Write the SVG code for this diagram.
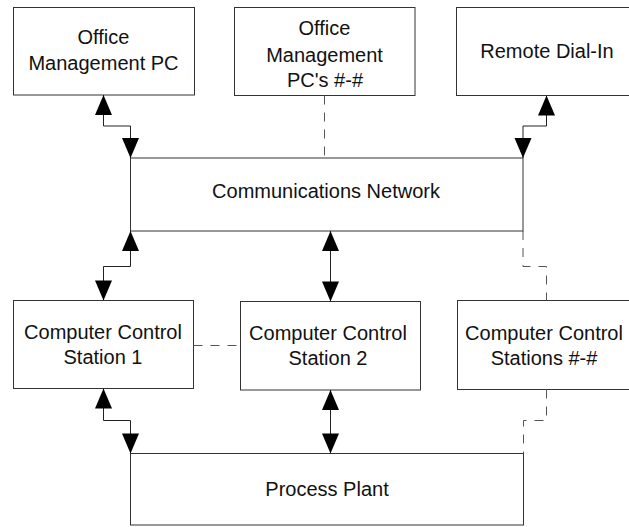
<svg xmlns="http://www.w3.org/2000/svg" width="629" height="527" viewBox="0 0 629 527">
<style>
.box{fill:#fff;stroke:#333;stroke-width:1}
.t{font-family:"Liberation Sans",Arial,sans-serif;font-size:20px;fill:#111;text-anchor:middle}
.c{fill:none;stroke:#222;stroke-width:1}
.d{fill:none;stroke:#555;stroke-width:1;stroke-dasharray:9,8}
</style>
<defs>
<marker id="ah" markerUnits="userSpaceOnUse" markerWidth="24" markerHeight="22" refX="20" refY="9" orient="auto-start-reverse" overflow="visible">
<path d="M0,0.5 L20,9 L0,17.5 z" fill="#000"/>
</marker>
</defs>
<rect width="629" height="527" fill="#fff"/>
<g id="office-pc"><rect class="box" x="13.5" y="7.5" width="181" height="87.5"/><text class="t" x="103.5" y="44">Office</text><text class="t" x="103.5" y="70">Management PC</text></g>
<g id="office-pcs"><rect class="box" x="234.5" y="7.5" width="180.5" height="88"/><text class="t" x="324.5" y="34.5">Office</text><text class="t" x="324.5" y="61.5">Management</text><text class="t" x="325" y="87">PC's #-#</text></g>
<g id="remote"><rect class="box" x="456.5" y="7.5" width="185" height="88"/><text class="t" x="547" y="57.5">Remote Dial-In</text></g>
<g id="comm"><rect class="box" x="130.5" y="158" width="392.5" height="73"/><text class="t" x="326" y="198">Communications Network</text></g>
<g id="station1"><rect class="box" x="13.5" y="300.5" width="180" height="88"/><text class="t" x="103" y="338.5">Computer Control</text><text class="t" x="103" y="364">Station 1</text></g>
<g id="station2"><rect class="box" x="240.5" y="301.5" width="180" height="88.5"/><text class="t" x="328" y="339.5">Computer Control</text><text class="t" x="328" y="365">Station 2</text></g>
<g id="station3"><rect class="box" x="457.5" y="300.5" width="185" height="89"/><text class="t" x="544" y="340">Computer Control</text><text class="t" x="544" y="365">Stations #-#</text></g>
<g id="plant"><rect class="box" x="130.5" y="453.5" width="393" height="71.5"/><text class="t" x="327" y="496">Process Plant</text></g>
<g id="connectors">
<path class="c" d="M103.5,95 V126 H130.5 V158" marker-start="url(#ah)" marker-end="url(#ah)"/>
<path class="c" d="M546.5,95.5 V126 H523 V158" marker-start="url(#ah)" marker-end="url(#ah)"/>
<path class="d" d="M324.5,95.5 V158"/>
<path class="c" d="M130.5,231 V266.5 H103.5 V300.5" marker-start="url(#ah)" marker-end="url(#ah)"/>
<path class="c" d="M330.5,231 V301.5" marker-start="url(#ah)" marker-end="url(#ah)"/>
<path class="d" d="M523,231 V266.5 H546.5 V300.5"/>
<path class="d" d="M193.5,345.5 H240.5"/>
<path class="c" d="M103.5,388.5 V420.5 H130.5 V453.5" marker-start="url(#ah)" marker-end="url(#ah)"/>
<path class="c" d="M330.5,390 V453.5" marker-start="url(#ah)" marker-end="url(#ah)"/>
<path class="d" d="M546.5,389.5 V420.5 H523.5 V453.5"/>
</g>
</svg>
